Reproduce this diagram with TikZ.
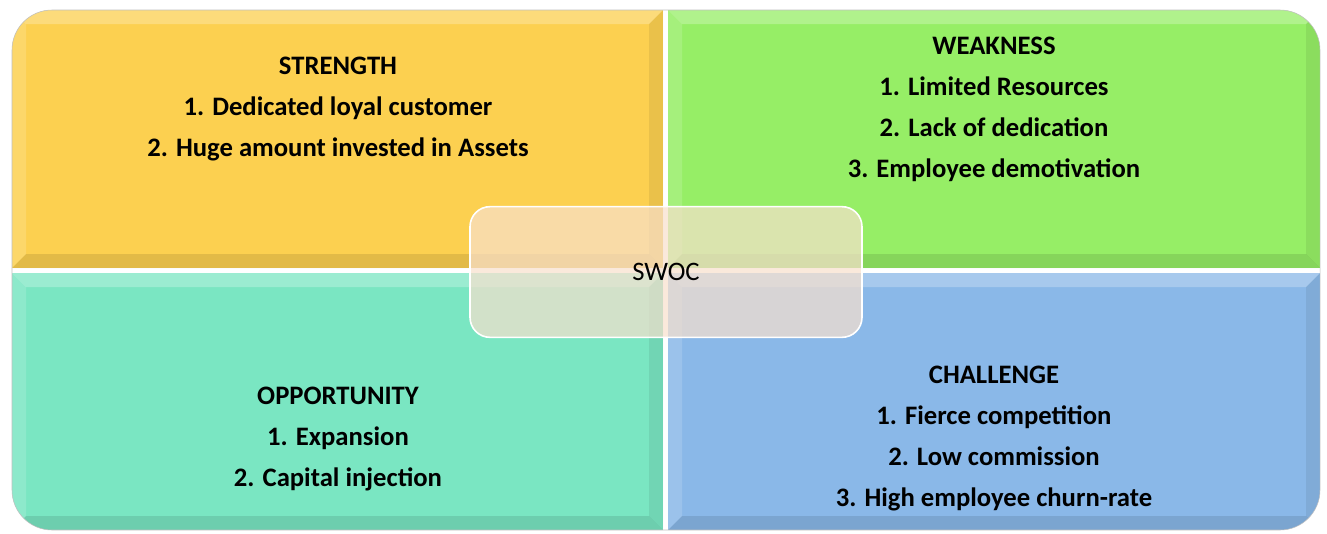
\documentclass[tikz,border=0pt]{standalone}
\usepackage{fontspec}
\setmainfont{Carlito}
\usetikzlibrary{calc}

\definecolor{strengthfill}{RGB}{252,208,80}
\definecolor{weaknessfill}{RGB}{150,238,102}
\definecolor{opportunityfill}{RGB}{122,230,194}
\definecolor{challengefill}{RGB}{138,184,232}
\definecolor{swocfill}{RGB}{248,224,205}

\tikzset{
  panel text/.style={font=\bfseries\fontsize{20}{30.75}\selectfont, align=center},
  swocbox/.style={draw=white, line width=1.2pt, fill=swocfill, fill opacity=.7, text opacity=1,
    rounded corners=15pt, minimum width=294pt, minimum height=98pt,
    font=\fontsize{20}{24}\selectfont}
}

% one quadrant with a bevelled edge
\newcommand{\swocpanel}[5]{%
  \fill[#5] (#1,#2) rectangle (#3,#4);
  \fill[white, opacity=.25] (#1,#2) -- (#3,#2) -- ($(#3,#2)+(-14,14)$) -- ($(#1,#2)+(14,14)$) -- cycle;
  \fill[white, opacity=.15] (#1,#2) -- ($(#1,#2)+(14,14)$) -- ($(#1,#4)+(14,-14)$) -- (#1,#4) -- cycle;
  \fill[black, opacity=.07] (#3,#2) -- (#3,#4) -- ($(#3,#4)+(-14,-14)$) -- ($(#3,#2)+(-14,14)$) -- cycle;
  \fill[black, opacity=.1] (#1,#4) -- (#3,#4) -- ($(#3,#4)+(-14,-14)$) -- ($(#1,#4)+(14,-14)$) -- cycle;
}

\begin{document}
\begin{tikzpicture}[x=0.75pt, y=-0.75pt]
\useasboundingbox (0,0) rectangle (1327,533);

\begin{scope}
  \clip[rounded corners=30pt] (12,10) rectangle (1320,530);
  \fill[white] (12,10) rectangle (1320,530);
  \swocpanel{12}{10}{663}{268}{strengthfill}
  \swocpanel{668}{10}{1320}{268}{weaknessfill}
  \swocpanel{12}{273}{663}{530}{opportunityfill}
  \swocpanel{668}{273}{1320}{530}{challengefill}
\end{scope}
\draw[black!25, rounded corners=30pt] (12,10) rectangle (1320,530);

\node[panel text] (strength) at (338,109) {STRENGTH\\1. Dedicated loyal customer\\2. Huge amount invested in Assets};
\node[panel text] (weakness) at (994,109) {WEAKNESS\\1. Limited Resources\\2. Lack of dedication\\3. Employee demotivation};
\node[panel text] (opportunity) at (338,439) {OPPORTUNITY\\1. Expansion\\2. Capital injection};
\node[panel text] (challenge) at (994,439) {CHALLENGE\\1. Fierce competition\\2. Low commission\\3. High employee churn-rate};

\node[swocbox] (swoc) at (666,272) {SWOC};
\end{tikzpicture}
\end{document}
